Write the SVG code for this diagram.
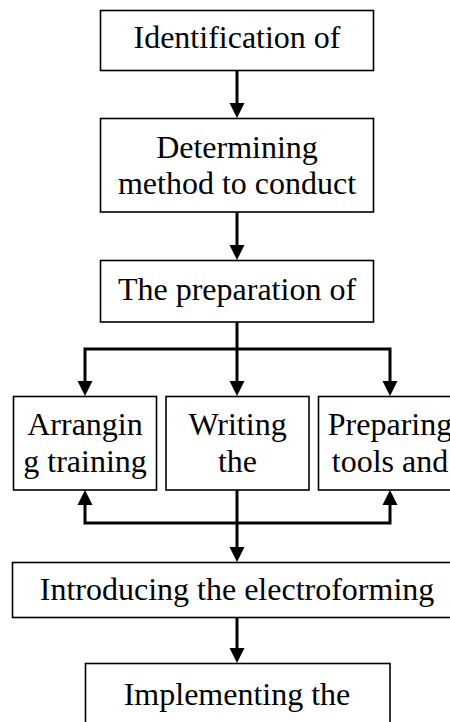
<svg xmlns="http://www.w3.org/2000/svg" width="450" height="722" viewBox="0 0 450 722">
<style>
.box{fill:#fff;stroke:#000;stroke-width:1.6}
.t{font-family:"Liberation Serif","Times New Roman",serif;font-size:32px;fill:#000;text-anchor:middle}
.c{fill:none;stroke:#000;stroke-width:3;stroke-linejoin:miter;stroke-linecap:butt}
</style>
<defs>
<marker id="ah" markerUnits="userSpaceOnUse" markerWidth="16" markerHeight="15" refX="0" refY="7.5" orient="auto" overflow="visible">
<path d="M0,0 L15,7.5 L0,15 z" fill="#000"/>
</marker>
</defs>
<rect width="450" height="722" fill="#fff"/>
<g id="connectors">
<path class="c" d="M237,71 V103" marker-end="url(#ah)"/>
<path class="c" d="M237,212 V245" marker-end="url(#ah)"/>
<path class="c" d="M237,322 V381" marker-end="url(#ah)"/>
<path class="c" d="M237,349 H85 V381" marker-end="url(#ah)"/>
<path class="c" d="M237,349 H390 V381" marker-end="url(#ah)"/>
<path class="c" d="M237,490 V547" marker-end="url(#ah)"/>
<path class="c" d="M237,523 H85 V505" marker-end="url(#ah)"/>
<path class="c" d="M237,523 H390 V505" marker-end="url(#ah)"/>
<path class="c" d="M237,617 V648" marker-end="url(#ah)"/>
</g>
<g id="n1">
<rect class="box" x="100.5" y="10.5" width="273" height="60"/>
<text class="t" x="237" y="48">Identification of</text>
</g>
<g id="n2">
<rect class="box" x="100.5" y="118.5" width="273" height="93.5"/>
<text class="t" x="237" y="158">Determining</text>
<text class="t" x="237" y="194">method to conduct</text>
</g>
<g id="n3">
<rect class="box" x="100.5" y="260.5" width="273" height="61.5"/>
<text class="t" x="237" y="300">The preparation of</text>
</g>
<g id="n4">
<rect class="box" x="13.5" y="396.5" width="143" height="93.5"/>
<text class="t" x="85" y="435">Arrangin</text>
<text class="t" x="85" y="472">g training</text>
</g>
<g id="n5">
<rect class="box" x="166" y="396.5" width="143" height="93.5"/>
<text class="t" x="237.5" y="435">Writing</text>
<text class="t" x="237.5" y="472">the</text>
</g>
<g id="n6">
<rect class="box" x="318.5" y="396.5" width="143" height="93.5"/>
<text class="t" x="390" y="435">Preparing</text>
<text class="t" x="390" y="472">tools and</text>
</g>
<g id="n7">
<rect class="box" x="12.5" y="562.5" width="450" height="55"/>
<text class="t" x="237" y="600">Introducing the electroforming</text>
</g>
<g id="n8">
<rect class="box" x="85.5" y="663.5" width="304.5" height="70"/>
<text class="t" x="237" y="705">Implementing the</text>
</g>
</svg>
